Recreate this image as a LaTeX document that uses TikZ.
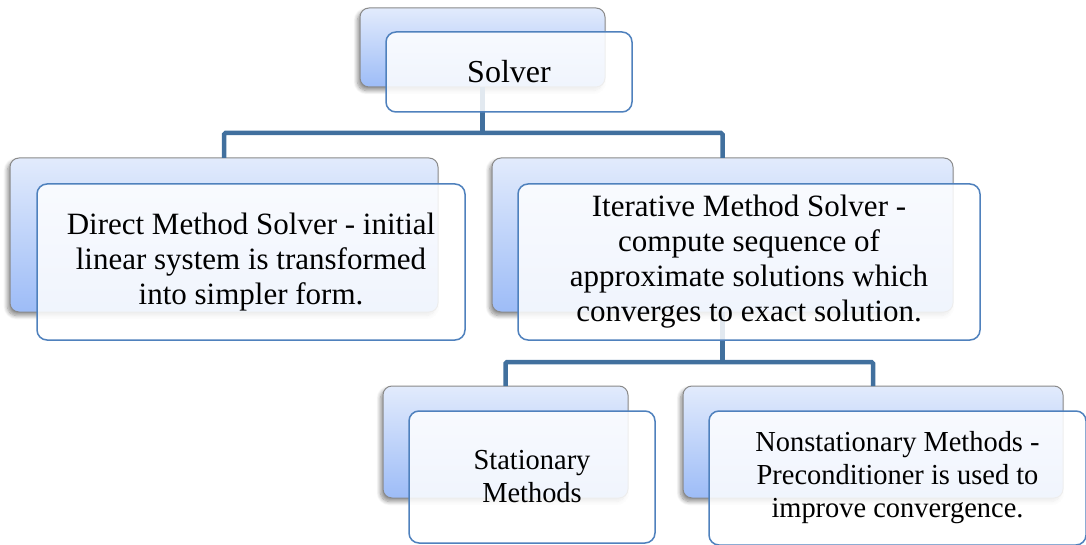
\documentclass[tikz,border=0pt]{standalone}
\usepackage{fontspec}
\setmainfont{Liberation Serif}
\newfontfamily\plainserif{Liberation Serif}
\newfontfamily\narrowserif[FakeStretch=0.98]{Liberation Serif}
\usetikzlibrary{shadows.blur}
\definecolor{backtop}{HTML}{E2EBFC}
\definecolor{backbot}{HTML}{9DBCF7}
\definecolor{backline}{HTML}{8A8A8A}
\definecolor{frontline}{HTML}{4F81BD}
\definecolor{linkcol}{HTML}{41709E}
\tikzset{
  backbox/.style={draw=backline, line width=1pt, rounded corners=9pt,
    top color=backtop, bottom color=backbot, inner sep=0pt, outer sep=0pt,
    anchor=north west,
    blur shadow={shadow xshift=-2.5pt, shadow yshift=-3.5pt, shadow blur steps=8,
      shadow blur radius=4pt, shadow opacity=45}},
  frontbox/.style={draw=frontline, line width=1.5pt, rounded corners=10pt,
    fill=white, fill opacity=0.85, text opacity=1, align=center,
    inner sep=0pt, outer sep=0pt, anchor=north west},
  link/.style={draw=linkcol, line width=4.5pt, rounded corners=1.5pt},
  bigtext/.style={font=\plainserif\fontsize{31}{35}\selectfont},
  smalltext/.style={font=\narrowserif\fontsize{29}{33}\selectfont},
}
\begin{document}
\begin{tikzpicture}[x=1pt, y=-1pt]
\useasboundingbox (0,0) rectangle (1086,545);

% rear panels
\node[backbox, minimum width=245pt, minimum height=79pt]  (solverB) at (360,8) {};
\node[backbox, minimum width=428pt, minimum height=154pt] (directB) at (10,158) {};
\node[backbox, minimum width=461pt, minimum height=154pt] (iterB)   at (492,158) {};
\node[backbox, minimum width=245pt, minimum height=112pt] (statB)   at (383,386) {};
\node[backbox, minimum width=380pt, minimum height=112pt] (nonB)    at (683,386) {};

% tree connectors
\coordinate (j1) at (482.5,133);
\coordinate (j2) at (722.5,362);
\draw[link] (solverB.south) -- (j1);
\draw[link] (directB.north) |- (j1) -| (iterB.north);
\draw[link] (iterB.south) -- (j2);
\draw[link] (statB.north) |- (j2) -| (nonB.north);

% front panels with text
\node[frontbox, minimum width=246pt, minimum height=80pt, font=\plainserif\fontsize{32}{36}\selectfont] (solverF) at (386,32) {Solver};
\node[frontbox, bigtext, minimum width=428pt, minimum height=156pt] (directF) at (37,184)
  {Direct Method Solver - initial\\linear system is transformed\\into simpler form.};
\node[frontbox, bigtext, minimum width=462pt, minimum height=156pt] (iterF) at (518,184)
  {Iterative Method Solver -\\compute sequence of\\approximate solutions which\\converges to exact solution.};
\node[frontbox, smalltext, minimum width=246pt, minimum height=132pt] (statF) at (409,411)
  {Stationary\\Methods};
\node[frontbox, smalltext, minimum width=377pt, minimum height=134pt] (nonF) at (709,411)
  {Nonstationary Methods -\\Preconditioner is used to\\improve convergence.};
\end{tikzpicture}
\end{document}
